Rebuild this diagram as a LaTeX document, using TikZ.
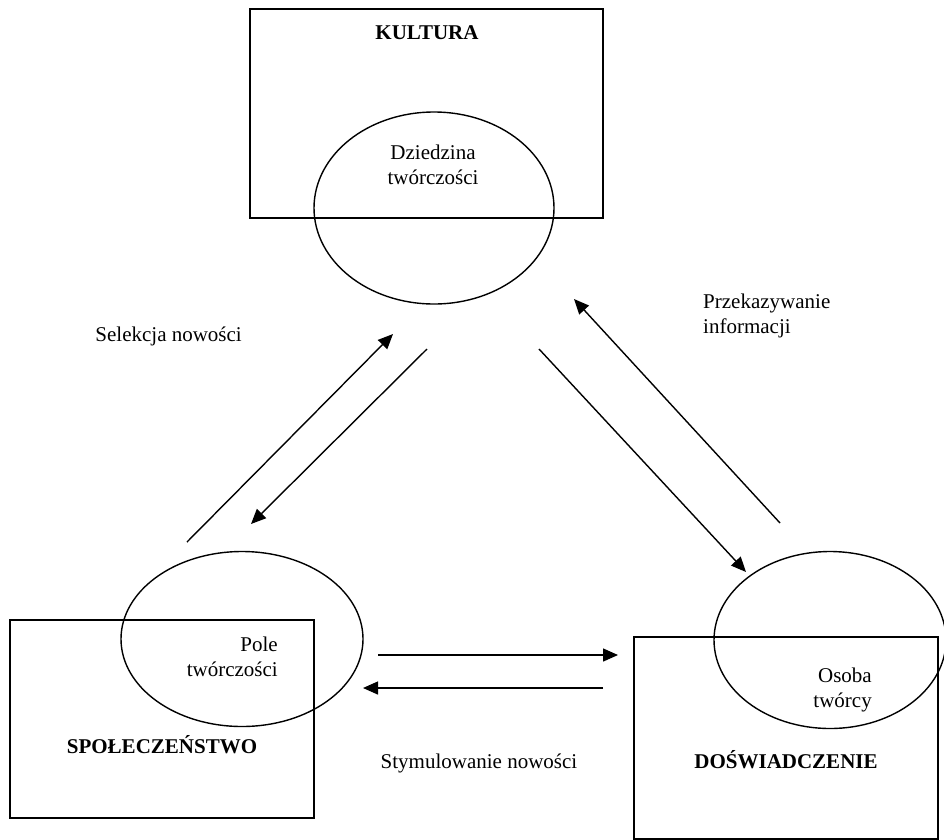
\documentclass[tikz,border=0pt]{standalone}
\usepackage{fontspec}
\setmainfont{Liberation Serif}
\usetikzlibrary{shapes.geometric,arrows.meta}
\begin{document}
\begin{tikzpicture}[x=1pt,y=-1pt,
  box/.style={draw,line width=1.5pt,inner sep=0pt},
  oval/.style={draw,ellipse,line width=1.4pt,inner sep=0pt},
  lbl/.style={font=\fontsize{21}{25}\selectfont,inner sep=0pt},
  ttl/.style={font=\fontsize{21}{25}\selectfont\bfseries,inner sep=0pt},
  arr/.style={line width=1.4pt,-{Triangle[length=15pt,width=13pt]}}]
\useasboundingbox (0,0) rectangle (944,839);
% rectangles
\node[box,minimum width=353pt,minimum height=209pt] (kr) at (426.5,113.5) {};
\node[box,minimum width=304pt,minimum height=198pt] (sr) at (162,719) {};
\node[box,minimum width=304pt,minimum height=202pt] (dr) at (786,738) {};
% ellipses
\node[oval,minimum width=240pt,minimum height=192pt] (ke) at (434,208) {};
\node[oval,minimum width=242pt,minimum height=175pt] (se) at (242,639) {};
\node[oval,minimum width=232pt,minimum height=177pt] (de) at (830,640) {};
% titles
\node[ttl] (kt) at (427,33) {KULTURA};
\node[ttl] (st) at (162,745) {SPOŁECZEŃSTWO};
\node[ttl] (dt) at (786,760) {DOŚWIADCZENIE};
% inner texts
\node[lbl,align=center] (kx) at (433,165) {Dziedzina\\twórczości};
\node[lbl,align=right,anchor=east] (sx) at (278,657) {Pole\\twórczości};
\node[lbl,align=right,anchor=east] (dx) at (872,690) {Osoba\\twórcy};
% labels
\node[lbl,anchor=east] (l1) at (242,336) {Selekcja nowości};
\node[lbl,align=left,anchor=west] (l2) at (703,316) {Przekazywanie\\informacji};
\node[lbl] (l3) at (479,763) {Stymulowanie nowości};
% arrow ends
\coordinate (a1s) at (187,542); \coordinate (a1e) at (393,334);
\coordinate (a2s) at (427,349); \coordinate (a2e) at (251,524);
\coordinate (a3s) at (539,349); \coordinate (a3e) at (746,572);
\coordinate (a4s) at (780,523); \coordinate (a4e) at (574,299);
\coordinate (a5s) at (378,655); \coordinate (a5e) at (618,655);
\coordinate (a6s) at (603,688); \coordinate (a6e) at (363,688);
\draw[arr] (a1s) -- (a1e);
\draw[arr] (a2s) -- (a2e);
\draw[arr] (a3s) -- (a3e);
\draw[arr] (a4s) -- (a4e);
\draw[arr] (a5s) -- (a5e);
\draw[arr] (a6s) -- (a6e);
\end{tikzpicture}
\end{document}
